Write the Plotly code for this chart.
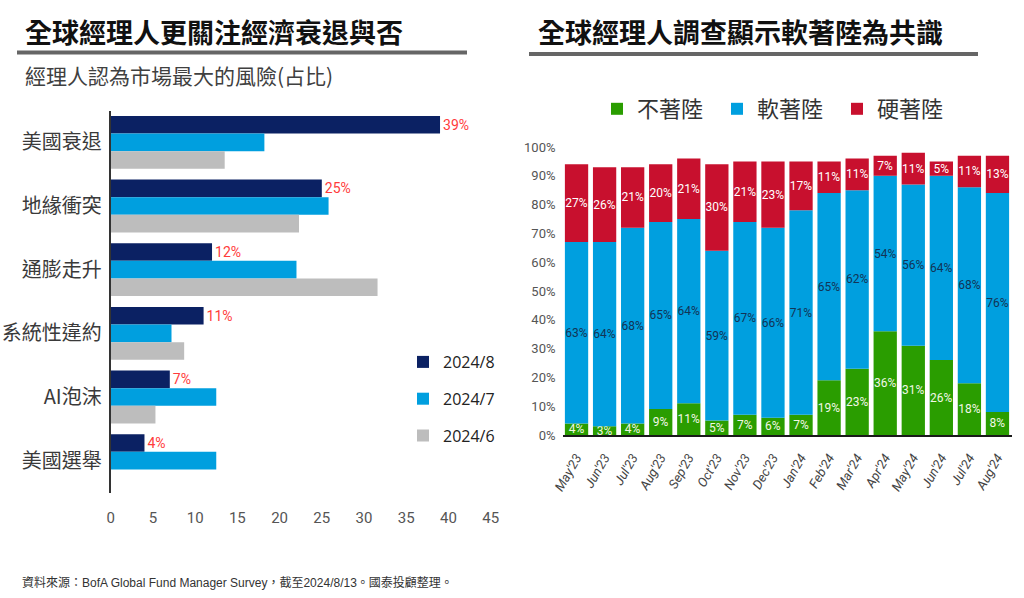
import plotly.graph_objects as go
import numpy as np

# ---------------- data: left chart ----------------
risk_categories = ["美國衰退", "地緣衝突", "通膨走升", "系統性違約", "AI泡沫", "美國選舉"]
risk_aug = [39, 25, 12, 11, 7, 4]
risk_jul = [18.2, 25.8, 22.0, 7.2, 12.5, 12.5]
risk_jun = [13.5, 22.3, 31.6, 8.7, 5.3, 0]
risk_series = ["2024/8", "2024/7", "2024/6"]
left_xticks = [0, 5, 10, 15, 20, 25, 30, 35, 40, 45]

# ---------------- data: right chart ----------------
months = ["May'23", "Jun'23", "Jul'23", "Aug'23", "Sep'23", "Oct'23", "Nov'23", "Dec'23",
          "Jan'24", "Feb'24", "Mar'24", "Apr'24", "May'24", "Jun'24", "Jul'24", "Aug'24"]
no_landing = [4, 3, 4, 9, 11, 5, 7, 6, 7, 19, 23, 36, 31, 26, 18, 8]
soft_landing = [63, 64, 68, 65, 64, 59, 67, 66, 71, 65, 62, 54, 56, 64, 68, 76]
hard_landing = [27, 26, 21, 20, 21, 30, 21, 23, 17, 11, 11, 7, 11, 5, 11, 13]
landing_names = ["不著陸", "軟著陸", "硬著陸"]
right_yticks = [0, 10, 20, 30, 40, 50, 60, 70, 80, 90, 100]

CJK = "Noto Sans CJK TC"
NUM = "Roboto, Liberation Sans Narrow, DejaVu Sans Condensed, sans-serif"

W, H = 1024, 598
def px(x):
    return x / W
def py(y):
    return 1 - y / H

fig = go.Figure()

# left grouped bars
left_colors = ["#0b2163", "#009fdf", "#bdbdbd"]
for name, vals, col in zip(risk_series, [risk_aug, risk_jul, risk_jun], left_colors):
    kw = {}
    if name == "2024/8":
        kw = dict(text=[f"{v}%" for v in vals], textposition="outside",
                  textfont=dict(family=NUM, size=14, color="#ff3b3b"),
                  constraintext="none", cliponaxis=False, textangle=0)
    fig.add_trace(go.Bar(
        y=risk_categories, x=vals, orientation="h", name=name,
        marker=dict(color=col, line=dict(width=0)),
        xaxis="x", yaxis="y", legend="legend", legendgroup=name, **kw))

# right stacked bars (via base)
green = np.array(no_landing)
blue = np.array(soft_landing)
red = np.array(hard_landing)
right_specs = [
    (landing_names[0], green, np.zeros_like(green), "#2a9d00", "#f2f7e6"),
    (landing_names[1], blue, green, "#009fdf", "#123456"),
    (landing_names[2], red, green + blue, "#c8102e", "#ffffff"),
]
for name, vals, base, col, tcol in right_specs:
    fig.add_trace(go.Bar(
        x=months, y=vals, base=base, name=name, offsetgroup="r",
        marker=dict(color=col, line=dict(width=0)),
        text=[f"{v}%" for v in vals], textposition="inside", insidetextanchor="middle",
        textangle=0, constraintext="none",
        textfont=dict(family=NUM, size=12, color=tcol),
        xaxis="x2", yaxis="y2", legend="legend2"))

fig.update_layout(
    width=W, height=H,
    margin=dict(l=0, r=0, t=0, b=0, autoexpand=False),
    paper_bgcolor="white", plot_bgcolor="white",
    barmode="group", bargap=0.17, bargroupgap=0,
    font=dict(family=CJK, color="#333333"),
    xaxis=dict(domain=[px(110.7), px(490.7)], range=[0, 45], tickvals=left_xticks,
               showgrid=False, zeroline=False, showline=False, ticks="",
               tickfont=dict(family=NUM, size=15, color="#555555"),
               ticklabelstandoff=14, anchor="y", automargin=False),
    yaxis=dict(domain=[py(492.5), py(110.5)], autorange="reversed",
               categoryorder="array", categoryarray=risk_categories,
               showgrid=False, zeroline=False, showline=True, linecolor="#333333",
               linewidth=2, ticks="", ticklabelstandoff=3, automargin=False,
               tickfont=dict(family=CJK, size=20, color="#3a3a3a"), anchor="x"),
    xaxis2=dict(domain=[px(562.5), px(1011.5)], showgrid=False, zeroline=False,
                showline=True, linecolor="#1a1a1a", linewidth=2, ticks="",
                tickangle=-60, ticklabelstandoff=8, automargin=False,
                tickfont=dict(family=NUM, size=13, color="#444444", style="italic"),
                anchor="y2"),
    yaxis2=dict(domain=[py(435), py(147)], range=[0, 100], tickvals=right_yticks,
                ticktext=[f"{v}%" for v in right_yticks],
                showgrid=False, zeroline=False, showline=False, ticks="",
                ticklabelstandoff=6, automargin=False,
                tickfont=dict(family=NUM, size=13, color="#555555"), anchor="x2"),
    legend=dict(x=px(403), y=py(345), xanchor="left", yanchor="top",
                orientation="v", traceorder="grouped", tracegroupgap=13,
                font=dict(family="Open Sans, Noto Sans, sans-serif", size=16, color="#222222"),
                bgcolor="rgba(0,0,0,0)"),
    legend2=dict(x=px(597), y=py(88), xanchor="left", yanchor="top",
                 orientation="h", traceorder="normal",
                 entrywidth=75, entrywidthmode="pixels",
                 font=dict(family=CJK, size=22, color="#333333"),
                 bgcolor="rgba(0,0,0,0)"),
    showlegend=True,
)

# titles
fig.add_annotation(text="<b>全球經理人更關注經濟衰退與否</b>", x=px(23), y=py(32),
                   xref="paper", yref="paper", xanchor="left", yanchor="middle",
                   showarrow=False, font=dict(family=CJK, size=27, color="#111111"))
fig.add_annotation(text="經理人認為市場最大的風險(占比)", x=px(23), y=py(75),
                   xref="paper", yref="paper", xanchor="left", yanchor="middle",
                   showarrow=False, font=dict(family=CJK, size=21, color="#404040"))
fig.add_annotation(text="<b>全球經理人調查顯示軟著陸為共識</b>", x=px(536), y=py(32),
                   xref="paper", yref="paper", xanchor="left", yanchor="middle",
                   showarrow=False, font=dict(family=CJK, size=27, color="#111111"))
fig.add_annotation(text="資料來源：BofA Global Fund Manager Survey，截至2024/8/13。國泰投顧整理。",
                   x=px(20), y=py(582), xref="paper", yref="paper", xanchor="left",
                   yanchor="middle", showarrow=False,
                   font=dict(family="Liberation Sans, Noto Sans CJK TC", size=12, color="#333333"))

# underlines
fig.add_shape(type="line", xref="paper", yref="paper", x0=px(17), x1=px(467),
              y0=py(52.5), y1=py(52.5), line=dict(color="#666666", width=4))
fig.add_shape(type="line", xref="paper", yref="paper", x0=px(529), x1=px(978),
              y0=py(54), y1=py(54), line=dict(color="#666666", width=4))

fig.write_html("out.html", config={"displayModeBar": False},
               post_script="document.body.style.margin='0px';document.body.style.overflow='hidden';")
